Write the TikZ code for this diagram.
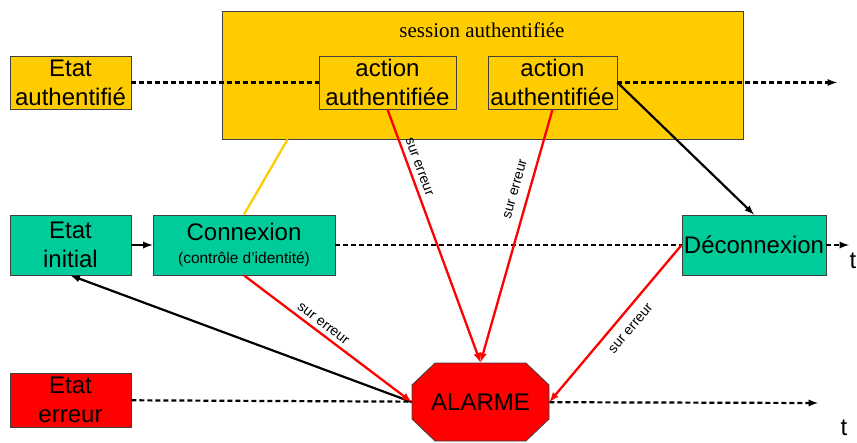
\documentclass[tikz,border=0pt]{standalone}
\usepackage{fontspec}
\setmainfont{Liberation Sans}
\newfontfamily\sessionfont{Liberation Serif}
\usepackage{tikz}

\definecolor{authgold}{HTML}{FFCC00}
\definecolor{stategreen}{HTML}{00CC99}
\definecolor{alarmred}{HTML}{FF0000}

\tikzset{
  box/.style={draw=black!75, line width=0.8pt, inner sep=0pt, align=center,
    font=\fontsize{24}{29}\selectfont},
  goldbox/.style={box, fill=authgold},
  greenbox/.style={box, fill=stategreen},
  redbox/.style={box, fill=alarmred},
  timeline/.style={line width=2.2pt, dash pattern=on 5pt off 3pt},
  flow/.style={line width=2.2pt, -latex},
  errlink/.style={alarmred, line width=2.3pt, -latex},
  errlabel/.style={font=\fontsize{14}{14}\selectfont, sloped, inner sep=2pt, text=black},
  authlink/.style={authgold, line width=2.3pt}
}

\begin{document}
\begin{tikzpicture}[x=1pt,y=-1pt]
  \useasboundingbox (0,0) rectangle (857,442);

  \node[goldbox, minimum width=521, minimum height=128] (session) at (482.5,75) {};
  \node[font=\sessionfont\fontsize{21}{21}\selectfont] (sessiontxt) at (482,30) {session authentifiée};

  \node[goldbox, minimum width=121, minimum height=53] (etatauth) at (70.5,82.5) {Etat\\authentifié};
  \node[goldbox, minimum width=137, minimum height=53] (action1) at (387.5,82.5) {action\\authentifiée};
  \node[goldbox, minimum width=129, minimum height=53] (action2) at (552.5,82.5) {action\\authentifiée};

  \node[greenbox, minimum width=121, minimum height=60] (etatinit) at (70.5,245) {Etat\\initial};
  \node[greenbox, minimum width=182, minimum height=60] (connexion) at (244,245)
    {Connexion\\[-6pt]{\fontsize{15.5}{17}\selectfont (contrôle d’identité)}};
  \node[greenbox, minimum width=144, minimum height=60] (deconnexion) at (754,245) {Déconnexion};

  \node[redbox, minimum width=121, minimum height=54] (etaterreur) at (70.5,400) {Etat\\erreur};
  \filldraw[fill=alarmred, draw=black!75, line width=0.8pt]
    (435,363) -- (526,363) -- (549,385) -- (549,419) -- (526,441)
    -- (435,441) -- (412,419) -- (412,385) -- cycle;
  \node[box, draw=none, minimum width=137, minimum height=78] (alarme) at (480.5,402) {ALARME};

  \coordinate (tend1) at (837,82.5);
  \coordinate (tend2) at (849,245);
  \coordinate (tend3) at (818,403);
  \node[font=\fontsize{24}{24}\selectfont, inner sep=0pt] (tlabel1) at (853,261) {t};
  \node[font=\fontsize{24}{24}\selectfont, inner sep=0pt] (tlabel2) at (844,428) {t};

  \draw[timeline] (etatauth) -- (action1);
  \draw[timeline, -latex] (action2) -- (tend1);
  \draw[timeline] (connexion) -- (deconnexion);
  \draw[timeline, -latex] (deconnexion) -- (tend2);
  \draw[timeline] (etaterreur) -- (alarme);
  \draw[timeline, -latex] (alarme) -- (tend3);

  \draw[authlink] ([xshift=66pt]session.south west) -- (connexion.north);

  \draw[flow] (etatinit) -- (connexion);
  \draw[flow] (action2.east) -- (deconnexion.north);
  \draw[flow] (alarme.west) -- (etatinit.south);

  \draw[errlink] (action1.south) -- node[errlabel, pos=0.24, above=3pt] {sur erreur} (alarme.north);
  \draw[errlink] (action2.south) -- node[errlabel, pos=0.33, above=7pt] {sur erreur} (alarme.north);
  \draw[errlink] (connexion.south) -- node[errlabel, pos=0.44, above=2pt] {sur erreur} (alarme.west);
  \draw[errlink] (deconnexion.west) -- node[errlabel, pos=0.47, below=8pt] {sur erreur} (alarme.east);
\end{tikzpicture}
\end{document}
